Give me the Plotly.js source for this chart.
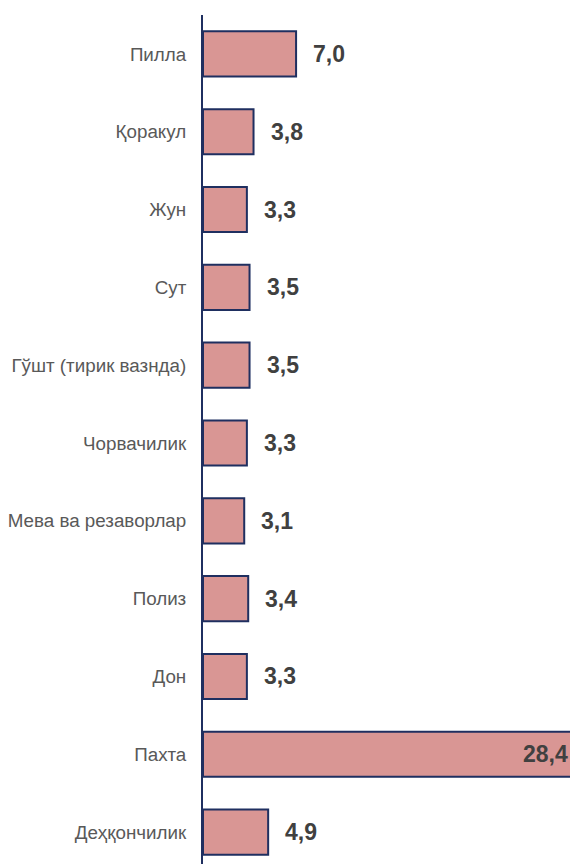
<!DOCTYPE html>
<html>
<head>
<meta charset="utf-8">
<script src="https://cdn.plot.ly/plotly-3.0.1.min.js"></script>
<style>html,body{margin:0;padding:0;background:#fff;}#chart{width:570px;height:864px;}</style>
</head>
<body>
<div id="chart"></div>
<script>
// Categories listed bottom to top
const categories = ["Деҳқончилик", "Пахта", "Дон", "Полиз", "Мева ва резаворлар", "Чорвачилик", "Гўшт (тирик вазнда)", "Сут", "Жун", "Қоракул", "Пилла"];
const values = [4.9, 28.4, 3.3, 3.4, 3.1, 3.3, 3.5, 3.5, 3.3, 3.8, 7.0];
const labels = values.map(v => v.toFixed(1).replace('.', ','));

const xMax = 27.6;

const annotations = values.map((v, i) => {
  const clipped = v > xMax;
  return {
    x: clipped ? xMax : v,
    y: categories[i],
    xref: 'x', yref: 'y',
    text: labels[i],
    showarrow: false,
    xanchor: clipped ? 'right' : 'left',
    xshift: clipped ? 0 : 15,
    font: {family: 'Liberation Sans, Arial, sans-serif', size: 23, color: '#404040', weight: 'bold'}
  };
});

const trace = {
  type: 'bar',
  orientation: 'h',
  y: categories,
  x: values,
  marker: {color: '#d99694', line: {color: '#1f2f60', width: 2}},
  hoverinfo: 'none'
};

const layout = {
  width: 570, height: 864,
  margin: {l: 203, r: 0, t: 15, b: 0},
  paper_bgcolor: '#fff', plot_bgcolor: '#fff',
  bargap: 0.42,
  showlegend: false,
  xaxis: {range: [0, xMax], visible: false, showgrid: false, zeroline: false},
  yaxis: {
    type: 'category',
    range: [-0.41, 10.5],
    showline: true, linecolor: '#1f2f60', linewidth: 2,
    showgrid: false, zeroline: false,
    ticks: '', ticklabelstandoff: 11,
    tickfont: {family: 'Liberation Sans, Arial, sans-serif', size: 18.8, color: '#595959'}
  },
  annotations: annotations
};

Plotly.newPlot('chart', [trace], layout, {displayModeBar: false, staticPlot: true});
</script>
</body>
</html>
